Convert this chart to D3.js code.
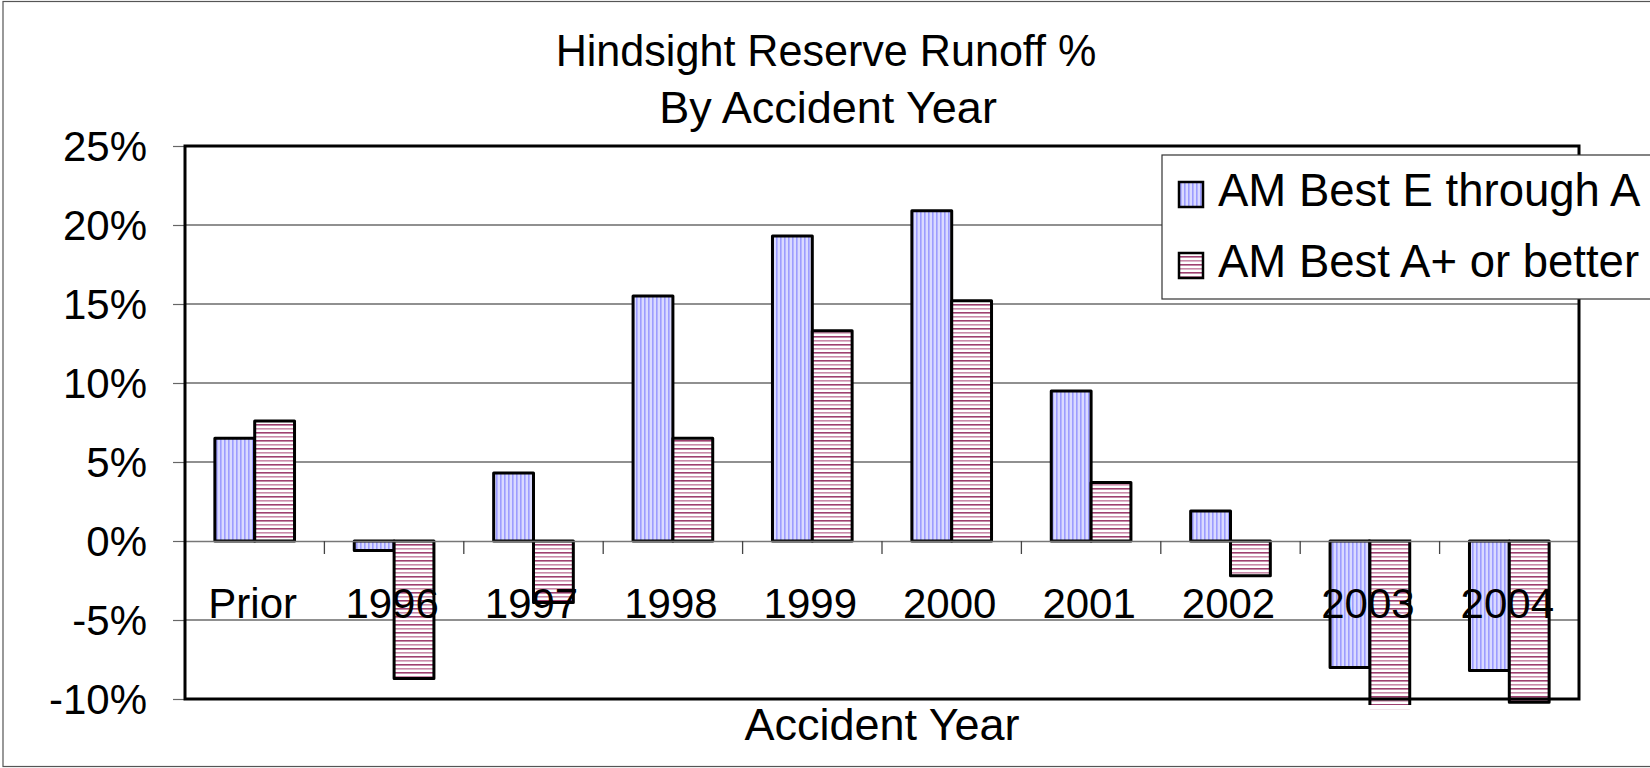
<!DOCTYPE html>
<html>
<head>
<meta charset="utf-8">
<script src="https://cdn.jsdelivr.net/npm/d3@7"></script>
<style>
  html, body { margin: 0; padding: 0; background: #fff; }
  svg { display: block; font-family: "Liberation Sans", Arial, sans-serif; }
</style>
</head>
<body>
<svg id="chart" width="1650" height="768"></svg>
<script>
// ---- Data ----
const categories = ["Prior", "1996", "1997", "1998", "1999", "2000", "2001", "2002", "2003", "2004"];
const seriesNames = ["AM Best E through A", "AM Best A+ or better"];
const seriesEthroughA = [6.5, -0.6, 4.3, 15.5, 19.3, 20.9, 9.5, 1.9, -8.0, -8.2];
const seriesAplus = [7.6, -8.7, -3.9, 6.5, 13.3, 15.2, 3.7, -2.2, -10.8, -10.2];
const yTicks = [-10, -5, 0, 5, 10, 15, 20, 25];
const titleLines = ["Hindsight Reserve Runoff %", "By Accident Year"];
const xTitle = "Accident Year";

// ---- Layout ----
const W = 1650, H = 768;
const plot = { left: 185, right: 1579, top: 146, bottom: 699 };

const svg = d3.select("#chart");

// Patterns
const defs = svg.append("defs");
const pBlue = defs.append("pattern").attr("id", "pBlue")
  .attr("patternUnits", "userSpaceOnUse").attr("width", 4).attr("height", 4);
pBlue.append("rect").attr("width", 4).attr("height", 4).attr("fill", "#dadaff");
pBlue.append("rect").attr("x", 0).attr("width", 1.6).attr("height", 4).attr("fill", "#9c9cff");

const pRed = defs.append("pattern").attr("id", "pRed")
  .attr("patternUnits", "userSpaceOnUse").attr("width", 8).attr("height", 8);
pRed.append("rect").attr("width", 8).attr("height", 8).attr("fill", "#ffffff");
pRed.append("rect").attr("y", 0).attr("width", 8).attr("height", 1.6).attr("fill", "#9e3f6f");
pRed.append("rect").attr("y", 4).attr("width", 8).attr("height", 1.6).attr("fill", "#c98aa9");

const fills = ["url(#pBlue)", "url(#pRed)"];
const seriesData = [seriesEthroughA, seriesAplus];

// Outer chart border
svg.append("rect").attr("x", 3).attr("y", 1.5).attr("width", W + 10).attr("height", 765)
  .attr("fill", "#fff").attr("stroke", "#555").attr("stroke-width", 1.2);

// Scales
const x = d3.scaleBand().domain(categories).range([plot.left, plot.right]).padding(0);
const y = d3.scaleLinear().domain([-10, 25]).range([plot.bottom, plot.top]);
const barW = x.bandwidth() / 3.5;
const xs = d3.scaleBand().domain(d3.range(seriesNames.length))
  .range([0.75 * barW, 2.75 * barW]).padding(0);

// Title
const titleStyle = [
  { cx: 826, y: 66, size: 44, sx: 0.98 },
  { cx: 828, y: 123, size: 45, sx: 1.0 }
];
const title = svg.append("g");
titleLines.forEach((t, i) => {
  const s = titleStyle[i];
  title.append("text")
    .attr("transform", `translate(${s.cx}, ${s.y}) scale(${s.sx},1)`)
    .attr("text-anchor", "middle")
    .attr("font-size", s.size)
    .attr("fill", "#000")
    .text(t);
});

// Gridlines
svg.append("g").selectAll("line").data(yTicks.filter(d => d !== 0 && d !== -10 && d !== 25))
  .join("line")
  .attr("x1", plot.left).attr("x2", plot.right)
  .attr("y1", d => y(d)).attr("y2", d => y(d))
  .attr("stroke", "#222").attr("stroke-width", 1.2);

// Y axis (ticks + labels) via d3.axisLeft
const yAxis = d3.axisLeft(y).tickValues(yTicks).tickFormat(d => d + "%").tickSize(12).tickPadding(26);
const gy = svg.append("g").attr("transform", `translate(${plot.left},0)`).call(yAxis);
gy.select(".domain").remove();
gy.selectAll(".tick line").attr("stroke", "#666").attr("stroke-width", 1.2);
gy.selectAll(".tick text").attr("font-size", 42).attr("fill", "#000")
  .attr("font-family", "Liberation Sans, Arial, sans-serif").attr("dy", "0.35em");

// Bars
const barsG = svg.append("g");
const clipBottom = plot.bottom + 6;
categories.forEach((c, i) => {
  seriesData.forEach((s, k) => {
    const v = s[i];
    const x0 = x(c) + xs(k);
    const y0 = y(0), y1 = y(v);
    const top = Math.min(y0, y1), h = Math.abs(y1 - y0);
    barsG.append("rect")
      .attr("x", x0).attr("y", top).attr("width", xs.bandwidth()).attr("height", h)
      .attr("fill", fills[k]);
    if (y1 > clipBottom) {
      // bar extends past the axis minimum: outline is cut off
      const yb = clipBottom;
      barsG.append("path")
        .attr("d", `M${x0},${yb}V${y0}H${x0 + xs.bandwidth()}V${yb}`)
        .attr("fill", "none").attr("stroke", "#000").attr("stroke-width", 3);
      barsG.append("rect").attr("x", x0 - 2).attr("y", yb).attr("width", xs.bandwidth() + 4)
        .attr("height", y1 - yb - 2).attr("fill", "#fff");
    } else {
      barsG.append("rect")
        .attr("x", x0).attr("y", top).attr("width", xs.bandwidth()).attr("height", h)
        .attr("fill", "none").attr("stroke", "#000").attr("stroke-width", 3)
        .attr("stroke-linejoin", "round");
    }
  });
});

// Zero axis line with category ticks
const xAxis = d3.axisBottom(x).tickValues([]).tickSize(0);
const gx = svg.append("g").attr("transform", `translate(0,${y(0)})`).call(xAxis);
gx.select(".domain").attr("stroke", "#777").attr("stroke-width", 1.5);
gx.selectAll(".sep").data(categories.slice(1)).join("line")
  .attr("class", "sep")
  .attr("x1", d => x(d)).attr("x2", d => x(d))
  .attr("y1", 0).attr("y2", 13)
  .attr("stroke", "#444").attr("stroke-width", 1.3);
gx.selectAll(".lbl").data(categories).join("text")
  .attr("class", "lbl")
  .attr("x", d => x(d) + x.bandwidth() / 2 - 2)
  .attr("y", 77)
  .attr("text-anchor", "middle")
  .attr("font-size", 42).attr("fill", "#000")
  .text(d => d);

// Plot border
svg.append("rect")
  .attr("x", plot.left).attr("y", plot.top)
  .attr("width", plot.right - plot.left).attr("height", plot.bottom - plot.top)
  .attr("fill", "none").attr("stroke", "#000").attr("stroke-width", 3);

// X axis title
svg.append("text").attr("x", (plot.left + plot.right) / 2).attr("y", 740)
  .attr("text-anchor", "middle").attr("font-size", 45).attr("fill", "#000").text(xTitle);

// Legend
const lg = svg.append("g");
lg.append("rect").attr("x", 1162).attr("y", 155).attr("width", 600).attr("height", 144)
  .attr("fill", "#fff").attr("stroke", "#333").attr("stroke-width", 1.2);
seriesNames.forEach((n, k) => {
  lg.append("rect").attr("x", 1179).attr("y", 182 + k * 71).attr("width", 24).attr("height", 25)
    .attr("fill", fills[k]).attr("stroke", "#000").attr("stroke-width", 2.5);
  lg.append("text").attr("x", 1218).attr("y", 206 + k * 71)
    .attr("font-size", 45.5).attr("fill", "#000").text(n);
});
</script>
</body>
</html>
